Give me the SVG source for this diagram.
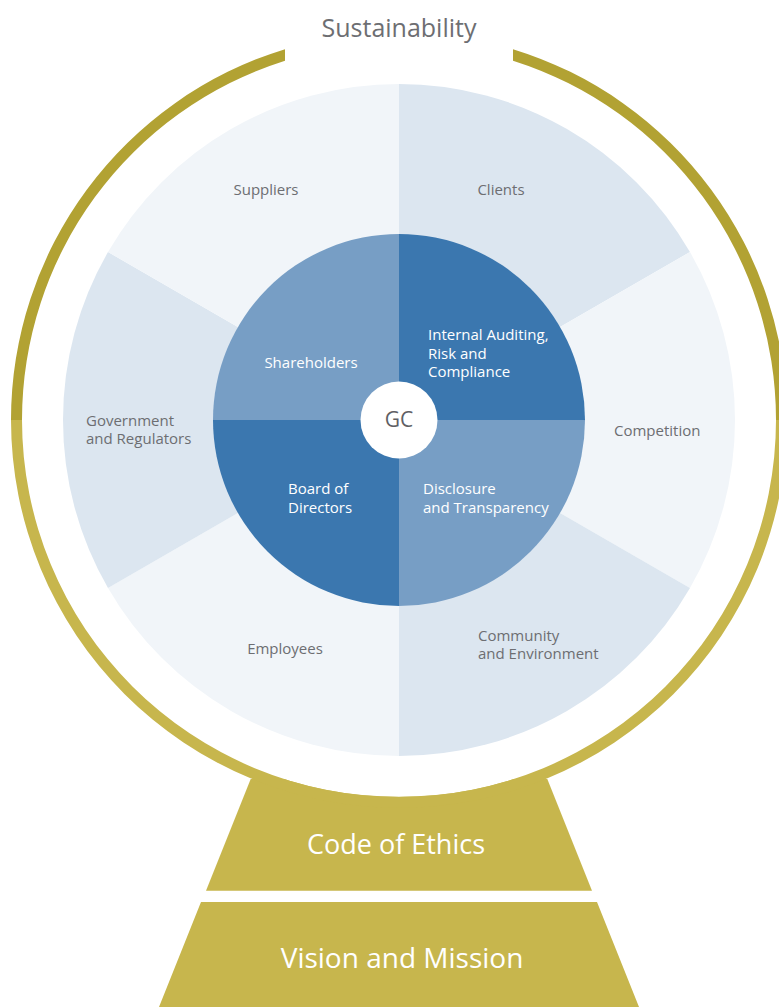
<svg xmlns="http://www.w3.org/2000/svg" width="779" height="1007" viewBox="0 0 779 1007">
<style>
.lbl{font-family:"Open Sans","Liberation Sans",sans-serif;font-size:15px;fill:#6D6E72}
.in{font-family:"Open Sans","Liberation Sans",sans-serif;font-size:15px;fill:#FFFFFF}
.big{font-family:"Open Sans","Liberation Sans",sans-serif;fill:#FFFFFF}
.dk{fill:#DCE6F0}
.lt{fill:#F1F5F9}
.qd{fill:#3B77AF}
.ql{fill:#779EC5}
.gold{fill:#C7B64D}
.olive{fill:#B2A233}
</style>
<rect width="779" height="1007" fill="#FFFFFF"/>
<g id="title">
<text x="399" y="37" text-anchor="middle" style="font-family:'Open Sans','Liberation Sans',sans-serif;font-size:25px;fill:#6D6E72">Sustainability</text>
</g>
<g id="code-of-ethics">
<polygon class="gold" points="250.7,779 547.3,779 592,890.7 206,890.7"/>
<text class="big" x="396" y="854" text-anchor="middle" font-size="27">Code of Ethics</text>
</g>
<g id="vision-and-mission">
<polygon class="gold" points="201,902 597,902 639,1007 159,1007"/>
<text class="big" x="402" y="968" text-anchor="middle" font-size="28">Vision and Mission</text>
</g>
<g id="ring">
<circle cx="399" cy="420" r="377" fill="#FFFFFF"/>
<path class="olive" d="M11 420 A388 388 0 0 1 285 49.13 L285 60.65 A377 377 0 0 0 22 420 Z"/>
<path class="olive" d="M513 49.13 A388 388 0 0 1 787 420 L776 420 A377 377 0 0 0 513 60.65 Z"/>
<path class="gold" d="M11 420 A388 388 0 0 0 787 420 L776 420 A377 377 0 0 1 22 420 Z"/>
</g>
<g id="clients">
<path class="dk" d="M399 420 L399 84 A336 336 0 0 1 689.98 252 Z"/>
<text class="lbl" x="501" y="195" text-anchor="middle">Clients</text>
</g>
<g id="competition">
<path class="lt" d="M399 420 L689.98 252 A336 336 0 0 1 689.98 588 Z"/>
<text class="lbl" x="614" y="436">Competition</text>
</g>
<g id="community">
<path class="dk" d="M399 420 L689.98 588 A336 336 0 0 1 399 756 Z"/>
<text class="lbl" x="478" y="641">Community</text>
<text class="lbl" x="478" y="659">and Environment</text>
</g>
<g id="employees">
<path class="lt" d="M399 420 L399 756 A336 336 0 0 1 108.02 588 Z"/>
<text class="lbl" x="285" y="654" text-anchor="middle">Employees</text>
</g>
<g id="government">
<path class="dk" d="M399 420 L108.02 588 A336 336 0 0 1 108.02 252 Z"/>
<text class="lbl" x="86" y="426">Government</text>
<text class="lbl" x="86" y="444">and Regulators</text>
</g>
<g id="suppliers">
<path class="lt" d="M399 420 L108.02 252 A336 336 0 0 1 399 84 Z"/>
<text class="lbl" x="266" y="195" text-anchor="middle">Suppliers</text>
</g>
<g id="internal-auditing">
<path class="qd" d="M399 420 L399 234 A186 186 0 0 1 585 420 Z"/>
<text class="in" x="428" y="340">Internal Auditing,</text>
<text class="in" x="428" y="358.5">Risk and</text>
<text class="in" x="428" y="377">Compliance</text>
</g>
<g id="disclosure">
<path class="ql" d="M399 420 L585 420 A186 186 0 0 1 399 606 Z"/>
<text class="in" x="423" y="494">Disclosure</text>
<text class="in" x="423" y="512.5">and Transparency</text>
</g>
<g id="board">
<path class="qd" d="M399 420 L399 606 A186 186 0 0 1 213 420 Z"/>
<text class="in" x="288" y="494">Board of</text>
<text class="in" x="288" y="512.5">Directors</text>
</g>
<g id="shareholders">
<path class="ql" d="M399 420 L213 420 A186 186 0 0 1 399 234 Z"/>
<text class="in" x="311" y="368" text-anchor="middle">Shareholders</text>
</g>
<g id="gc">
<circle cx="399" cy="420" r="38.5" fill="#FFFFFF"/>
<text x="399" y="427" text-anchor="middle" style="font-family:'Open Sans','Liberation Sans',sans-serif;font-size:21px;fill:#5F6064">GC</text>
</g>
</svg>
